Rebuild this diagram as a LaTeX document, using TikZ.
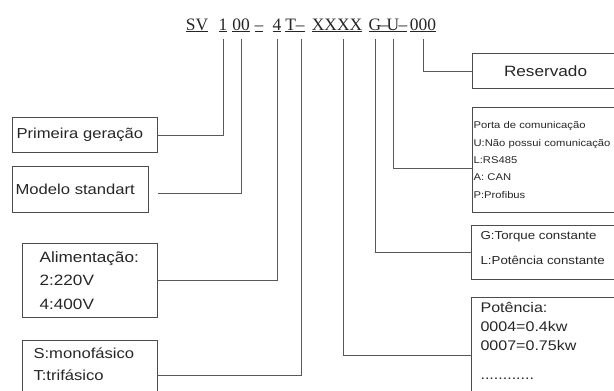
\documentclass[tikz,border=0pt]{standalone}
\usepackage{fontspec}
\setmainfont{Liberation Serif}
\newfontfamily\boxfont[FakeStretch=1.15]{Liberation Sans}
\usetikzlibrary{positioning}

\begin{document}
\begin{tikzpicture}[
  x=1bp, y=-1bp,
  code/.style={font=\fontsize{17.5}{20}\selectfont, inner sep=0pt, anchor=base,
               text height=12bp, text depth=9bp, text=black!85},
  box/.style={draw=black!70, line width=1.1bp, anchor=north west,
              inner sep=0pt, text=black!85},
  lbl/.style={box, align=left},
  link/.style={draw=black!65, line width=1bp},
]
\useasboundingbox (0,0) rectangle (614,390);
\clip (0,0) rectangle (614,390);

% type code
\node[code] (cSV)  at (197,30) {\underline{SV}};
\node[code] (c1)   at (223,30) {\underline{1}};
\node[code] (c00)  at (241,30) {\underline{00}};
\node[code] (cd1)  at (259,30) {\underline{–}};
\node[code] (c4)   at (277,30) {\underline{4}};
\node[code] (cT)   at (295,30) {\underline{T–}};
\node[code] (cX)   at (337,30) {\underline{XXXX}};
\node[code] (cG)   at (375,30) {\underline{G}};
\node[code] (cd2)  at (384,30) {\underline{–}};
\node[code] (cU)   at (393,30) {\underline{U}};
\node[code] (cd3)  at (403,30) {\underline{–}};
\node[code] (c000) at (423,30) {\underline{000}};

% left side
\node[lbl, minimum width=145bp, minimum height=35bp, text width=137bp,
      font=\boxfont\fontsize{14.5}{17}\selectfont] (gen) at (12,117)
  {Primeira geração};
\node[lbl, minimum width=136bp, minimum height=46bp, text width=130bp,
      font=\boxfont\fontsize{14.5}{17}\selectfont] (model) at (12,166)
  {Modelo standart};
\node[lbl, minimum width=135bp, minimum height=74bp, text width=101bp,
      font=\boxfont\fontsize{15}{23.5}\selectfont] (supply) at (22,243)
  {Alimentação:\\2:220V\\4:400V};
\node[box, inner xsep=11bp, inner ysep=7bp,
      font=\boxfont\fontsize{14.5}{22}\selectfont] (phase) at (22,340)
  {\parbox[t][55bp][t]{113bp}{\raggedright S:monofásico\\T:trifásico}};

% right side
\node[box, minimum width=146bp, minimum height=35bp,
      font=\boxfont\fontsize{15}{18}\selectfont] (res) at (472,53) {Reservado};
\node[lbl, minimum width=160bp, minimum height=105bp, text width=158bp,
      font=\boxfont\fontsize{9.8}{17.5}\selectfont] (comm) at (472,107)
  {Porta de comunicação\\U:Não possui comunicação\\L:RS485\\A: CAN\\P:Profibus};
\node[box, inner xsep=9bp, inner ysep=5.5bp,
      font=\boxfont\fontsize{11.6}{25}\selectfont] (torque) at (471,225)
  {\parbox[t][43bp][t]{142bp}{\raggedright G:Torque constante\\L:Potência constante}};
\node[box, inner xsep=9bp, inner ysep=5bp,
      font=\boxfont\fontsize{14}{19}\selectfont] (power) at (471,297)
  {\parbox[t][106bp][t]{142bp}{\raggedright Potência:\\0004=0.4kw\\0007=0.75kw\\[10bp]............}};

% links
\draw[link] (c1.south) |- (gen.east);
\draw[link] (c00.south) |- ([shift={(9bp,-4bp)}]model.east);
\draw[link] (c4.south) |- (supply.east);
\draw[link] ([xshift=6bp]cT.south) |- (phase.east);
\draw[link] ([xshift=6bp]cX.south) |- (power.west);
\draw[link] (cG.south) |- (torque.west);
\draw[link] (cU.south) |- ([yshift=-8.5bp]comm.west);
\draw[link] (c000.south) |- (res.west);
\end{tikzpicture}
\end{document}
